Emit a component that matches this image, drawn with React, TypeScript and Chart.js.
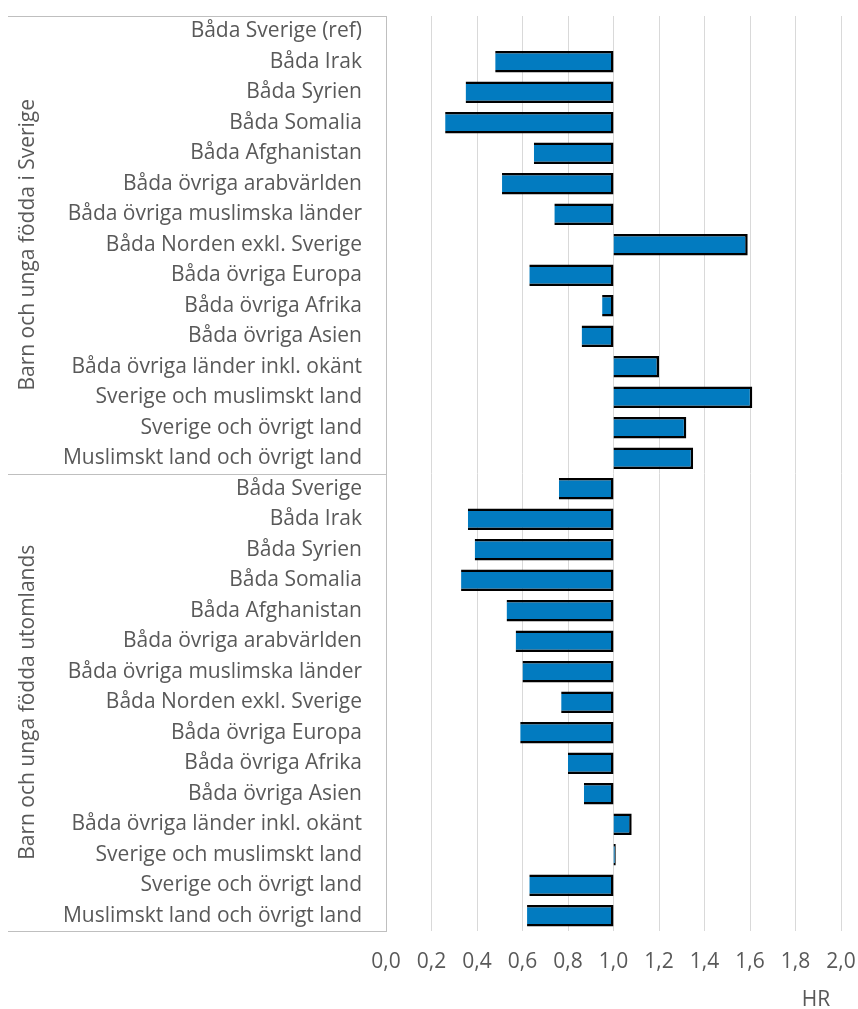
import React, { useEffect, useRef } from "react";
import { Chart, registerables } from "chart.js";

Chart.register(...registerables);

const categories = [
  "Båda Sverige (ref)",
  "Båda Irak",
  "Båda Syrien",
  "Båda Somalia",
  "Båda Afghanistan",
  "Båda övriga arabvärlden",
  "Båda övriga muslimska länder",
  "Båda Norden exkl. Sverige",
  "Båda övriga Europa",
  "Båda övriga Afrika",
  "Båda övriga Asien",
  "Båda övriga länder inkl. okänt",
  "Sverige och muslimskt land",
  "Sverige och övrigt land",
  "Muslimskt land och övrigt land",
  "Båda Sverige",
  "Båda Irak",
  "Båda Syrien",
  "Båda Somalia",
  "Båda Afghanistan",
  "Båda övriga arabvärlden",
  "Båda övriga muslimska länder",
  "Båda Norden exkl. Sverige",
  "Båda övriga Europa",
  "Båda övriga Afrika",
  "Båda övriga Asien",
  "Båda övriga länder inkl. okänt",
  "Sverige och muslimskt land",
  "Sverige och övrigt land",
  "Muslimskt land och övrigt land",
];

const groupLabels = ["Barn och unga födda i Sverige", "Barn och unga födda utomlands"];
const groupSizes = [15, 15];

const hrValues: (number | null)[] = [
  null, 0.48, 0.35, 0.26, 0.65, 0.51, 0.74, 1.59, 0.63, 0.95, 0.86, 1.2, 1.61, 1.32, 1.35,
  0.76, 0.36, 0.39, 0.33, 0.53, 0.57, 0.6, 0.77, 0.59, 0.8, 0.87, 1.08, 1.01, 0.63, 0.62,
];

const referenceValue = 1.0;
const xMin = 0;
const xMax = 2;
const xStep = 0.2;
const xTitle = "HR";

const FONT = "'Open Sans'";
const FONT_SIZE = 21;
const TEXT_COLOR = "#595959";

const groupPlugin = {
  id: "groupPlugin",
  afterDraw(chart: any) {
    const ctx = chart.ctx;
    const y = chart.scales.y;
    const area = chart.chartArea;
    const boundary = (k: number) => {
      if (k <= 0) return area.top;
      if (k >= categories.length) return area.bottom;
      return (y.getPixelForValue(k - 1) + y.getPixelForValue(k)) / 2;
    };
    ctx.save();
    ctx.strokeStyle = "#BFBFBF";
    ctx.lineWidth = 1;
    let start = 0;
    const bounds = [0];
    groupSizes.forEach((s) => {
      start += s;
      bounds.push(start);
    });
    bounds.forEach((k) => {
      const py = Math.round(boundary(k)) + 0.5;
      ctx.beginPath();
      ctx.moveTo(8, py);
      ctx.lineTo(area.left, py);
      ctx.stroke();
    });
    ctx.fillStyle = TEXT_COLOR;
    ctx.font = `${FONT_SIZE}px ${FONT}`;
    ctx.textAlign = "center";
    ctx.textBaseline = "middle";
    for (let g = 0; g < groupLabels.length; g++) {
      const cy = (boundary(bounds[g]) + boundary(bounds[g + 1])) / 2;
      ctx.save();
      ctx.translate(28, cy);
      ctx.rotate(-Math.PI / 2);
      ctx.fillText(groupLabels[g], 0, 0);
      ctx.restore();
    }
    ctx.textAlign = "center";
    ctx.fillText(xTitle, 816, 1000);
    ctx.restore();
  },
};

export default function App() {
  const ref = useRef<HTMLCanvasElement>(null);
  useEffect(() => {
    if (!ref.current) return;
    const chart = new Chart(ref.current, {
      type: "bar",
      data: {
        labels: categories,
        datasets: [
          {
            data: hrValues.map((v) => (v == null ? null : [referenceValue, v])) as any,
            backgroundColor: "#027BC0",
            borderColor: "#000000",
            borderWidth: 2.5,
            borderSkipped: "start",
            barPercentage: 0.7,
            categoryPercentage: 1,
          },
        ],
      },
      options: {
        indexAxis: "y",
        animation: false,
        responsive: false,
        maintainAspectRatio: false,
        layout: { padding: { top: 16, right: 17, left: 0, bottom: 0 } },
        plugins: { legend: { display: false }, tooltip: { enabled: false } },
        scales: {
          x: {
            type: "linear",
            min: xMin,
            max: xMax,
            afterFit: (s: any) => {
              s.height = 78;
              s.paddingLeft = 0;
              s.paddingRight = 0;
            },
            ticks: {
              stepSize: xStep,
              color: TEXT_COLOR,
              font: { family: FONT, size: FONT_SIZE },
              padding: 18,
              maxRotation: 0,
              callback: (v: any) => Number(v).toFixed(1).replace(".", ","),
            },
            grid: { color: "#D9D9D9", lineWidth: 1, drawTicks: false },
            border: { display: false },
          },
          y: {
            type: "category",
            afterFit: (s: any) => {
              s.width = 386;
              s.paddingTop = 0;
              s.paddingBottom = 0;
            },
            ticks: {
              color: TEXT_COLOR,
              font: { family: FONT, size: FONT_SIZE },
              padding: 24,
              autoSkip: false,
            },
            grid: { display: false, drawTicks: false },
            border: { display: true, color: "#BFBFBF", width: 1 },
          },
        },
      },
      plugins: [groupPlugin],
    });
    return () => chart.destroy();
  }, []);
  return (
    <div style={{ position: "absolute", left: 0, top: 0, width: 858, height: 1009 }}>
      <canvas ref={ref} width={858} height={1009} style={{ width: 858, height: 1009 }} />
    </div>
  );
}
